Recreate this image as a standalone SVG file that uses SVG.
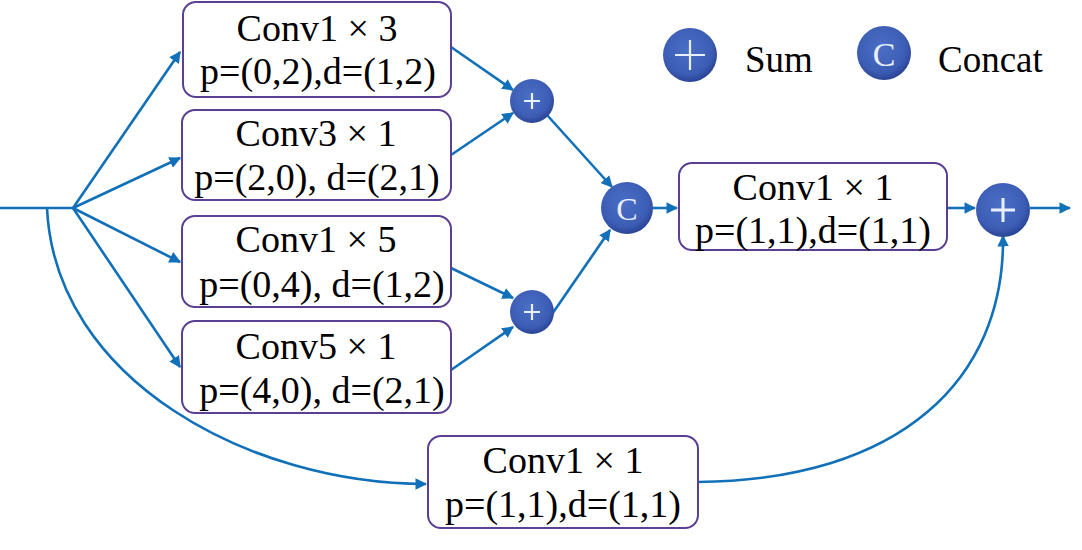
<svg xmlns="http://www.w3.org/2000/svg" width="1082" height="550" viewBox="0 0 1082 550">
<defs>
<radialGradient id="g" cx="45%" cy="40%" r="60%">
<stop offset="0" stop-color="#4a6fc4"/>
<stop offset="0.75" stop-color="#3d5db5"/>
<stop offset="1" stop-color="#2a4596"/>
</radialGradient>
<marker id="ah" viewBox="0 0 10 10" refX="9" refY="5" markerWidth="4.5" markerHeight="4.5" orient="auto" markerUnits="strokeWidth">
<path d="M0,0 L10,5 L0,10 z" fill="#1170b8"/>
</marker>
<style>
.box{fill:#fff;stroke:#5b3f92;stroke-width:2}
.t{font-family:"Liberation Serif",serif;font-size:38px;fill:#000;text-anchor:middle}
.lg{font-family:"Liberation Serif",serif;font-size:37px;fill:#000}
.c{fill:url(#g)}
.pl{stroke:#e8f0ff;stroke-width:2.2;fill:none}
.ct{font-family:"Liberation Serif",serif;fill:#e8f0ff;text-anchor:middle}
.e{stroke:#1170b8;stroke-width:2.6;fill:none}
.a{marker-end:url(#ah)}
</style>
</defs>
<rect width="1082" height="550" fill="#fff"/>
<g id="connectors">
<path class="e" d="M0,208 H73"/>
<path class="e a" d="M73,208 L180,52"/>
<path class="e a" d="M73,208 L180,158"/>
<path class="e a" d="M73,208 L180,262"/>
<path class="e a" d="M73,208 L180,367"/>
<path class="e a" d="M47,208 C55,380 250,484 426,484"/>
<path class="e a" d="M451,47 L513,90"/>
<path class="e a" d="M451,155 L513,113"/>
<path class="e a" d="M547,115 L612,187"/>
<path class="e a" d="M451,268 L513,298"/>
<path class="e a" d="M451,370 L513,327"/>
<path class="e a" d="M548,320 L610,230"/>
<path class="e a" d="M653,208 L677,208"/>
<path class="e a" d="M947,208 L975,208"/>
<path class="e a" d="M1030,208 L1070,208"/>
<path class="e a" d="M698,482 C900,480 1005,380 1003,236"/>
</g>
<g id="box1"><rect class="box" x="183" y="2" width="268" height="95" rx="13"/><text class="t" x="317" y="41">Conv1 × 3</text><text class="t" x="318" y="84">p=(0,2),d=(1,2)</text></g>
<g id="box2"><rect class="box" x="182" y="110" width="269" height="90" rx="13"/><text class="t" x="316" y="146">Conv3 × 1</text><text class="t" x="317" y="190">p=(2,0), d=(2,1)</text></g>
<g id="box3"><rect class="box" x="182" y="216" width="269" height="91" rx="13"/><text class="t" x="316" y="252">Conv1 × 5</text><text class="t" x="322" y="297">p=(0,4), d=(1,2)</text></g>
<g id="box4"><rect class="box" x="182" y="321" width="269" height="92" rx="13"/><text class="t" x="316" y="359">Conv5 × 1</text><text class="t" x="322" y="403">p=(4,0), d=(2,1)</text></g>
<g id="box5"><rect class="box" x="679" y="163" width="268" height="87" rx="13"/><text class="t" x="813" y="200">Conv1 × 1</text><text class="t" x="813" y="243">p=(1,1),d=(1,1)</text></g>
<g id="box6"><rect class="box" x="428" y="436" width="270" height="92" rx="13"/><text class="t" x="563" y="473">Conv1 × 1</text><text class="t" x="563" y="517">p=(1,1),d=(1,1)</text></g>
<g id="sum1"><circle class="c" cx="532" cy="101" r="22"/><path class="pl" d="M524,101 H540 M532,93 V109"/></g>
<g id="sum2"><circle class="c" cx="532" cy="312" r="22"/><path class="pl" d="M524,312 H540 M532,304 V320"/></g>
<g id="concat"><circle class="c" cx="627" cy="208" r="26"/><text class="ct" x="627" y="220" font-size="32">C</text></g>
<g id="sum3"><circle class="c" cx="1003" cy="210" r="27"/><path class="pl" style="stroke-width:3" d="M991,210 H1015 M1003,198 V222"/></g>
<g id="legend">
<circle class="c" cx="690" cy="55" r="27"/><path class="pl" d="M675,55 H705 M690,40 V70"/>
<text class="lg" x="745" y="72">Sum</text>
<circle class="c" cx="884" cy="53" r="27"/><text class="ct" x="884" y="66" font-size="34">C</text>
<text class="lg" x="938" y="72">Concat</text>
</g>
</svg>
